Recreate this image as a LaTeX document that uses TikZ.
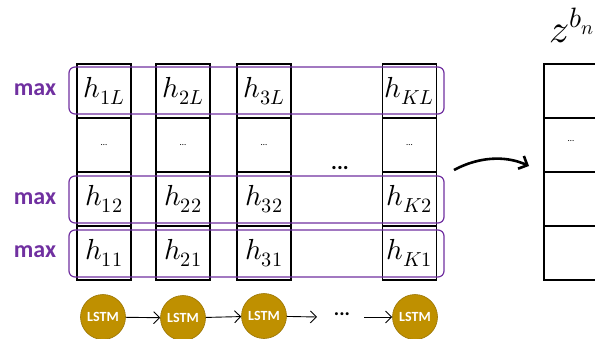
\documentclass[tikz,border=0pt]{standalone}
\usepackage{fontspec}
\usepackage{unicode-math}
\setmainfont{Carlito}
\setmathfont{Latin Modern Math}
\usetikzlibrary{arrows.meta}
\definecolor{mpurple}{HTML}{7030A0}
\definecolor{mgold}{HTML}{BF9000}
\begin{document}
\begin{tikzpicture}[x=1pt,y=-1pt,
  cell/.style={draw=black,line width=1.1pt,minimum width=54pt,minimum height=54pt,inner sep=0pt,font=\fontsize{29}{31}\selectfont},
  zcell/.style={draw=black,line width=1.1pt,minimum width=70pt,minimum height=54pt,inner sep=0pt},
  rowbox/.style={draw=mpurple,line width=1.2pt,rounded corners=6pt,minimum width=375pt,minimum height=47pt,inner sep=0pt},
  maxlbl/.style={text=mpurple,font=\fontsize{24}{26}\selectfont\bfseries},
  lstm/.style={circle,fill=mgold,draw=mgold!80!black,line width=0.6pt,minimum size=45pt,inner sep=0pt,text=white,font=\fontsize{14}{16}\selectfont\bfseries},
  chain/.style={line width=0.9pt,-{Straight Barb[length=6pt,width=12pt]}},
  smalldots/.style={font=\fontsize{9}{10}\selectfont},
  bigdots/.style={font=\fontsize{22}{24}\selectfont\bfseries}]
\useasboundingbox (0,0) rectangle (595,338);
\clip (0,0) rectangle (595,338);
% cells
\foreach \c/\x in {1/104,2/183,3/264,K/409.5}{
  \node[cell] (c\c L) at (\x,91) {$h_{\c L}$};
  \node[cell,smalldots] (c\c d) at (\x,145) {\dots};
  \node[cell] (c\c 2) at (\x,199) {$h_{\c 2}$};
  \node[cell] (c\c 1) at (\x,253) {$h_{\c 1}$};
}
\node[bigdots] (coldots) at (340,168) {...};
% purple row boxes
\node[rowbox] (rL) at (256.5,90.5) {};
\node[rowbox] (r2) at (256.5,199.5) {};
\node[rowbox] (r1) at (256.5,253.5) {};
\node[maxlbl] (mL) at (35,90) {max};
\node[maxlbl] (m2) at (35,199) {max};
\node[maxlbl] (m1) at (35,252) {max};
% z column
\node[zcell] (z1) at (579,91) {};
\node[zcell] (z2) at (579,145) {};
\node[zcell] (z3) at (579,199) {};
\node[zcell] (z4) at (579,253) {};
\node[smalldots] (zd) at (571,141) {\dots};
\node[anchor=base west,inner sep=0pt,font=\fontsize{40}{42}\selectfont] (zlbl) at (549,42) {$z^{b_n}$};
% curved arrow
\coordinate (as) at (454,170);
\coordinate (ae) at (529,166);
\draw[line width=2.6pt,-{Straight Barb[length=7pt,width=14pt]}] (as) .. controls (478,157) and (505,155) .. (ae);
% LSTM chain
\node[lstm] (l1) at (103,317) {LSTM};
\node[lstm] (l2) at (183,318) {LSTM};
\node[lstm] (l3) at (264,316) {LSTM};
\node[lstm] (l4) at (415,317) {LSTM};
\node[bigdots,font=\fontsize{20}{22}\selectfont\bfseries] (ldots) at (342,314) {...};
\coordinate (c3e) at (317,317);
\coordinate (c4s) at (364,317);
\draw[chain] (l1) -- (l2);
\draw[chain] (l2) -- (l3);
\draw[chain] (l3) -- (c3e);
\draw[chain] (c4s) -- (l4);
\end{tikzpicture}
\end{document}
